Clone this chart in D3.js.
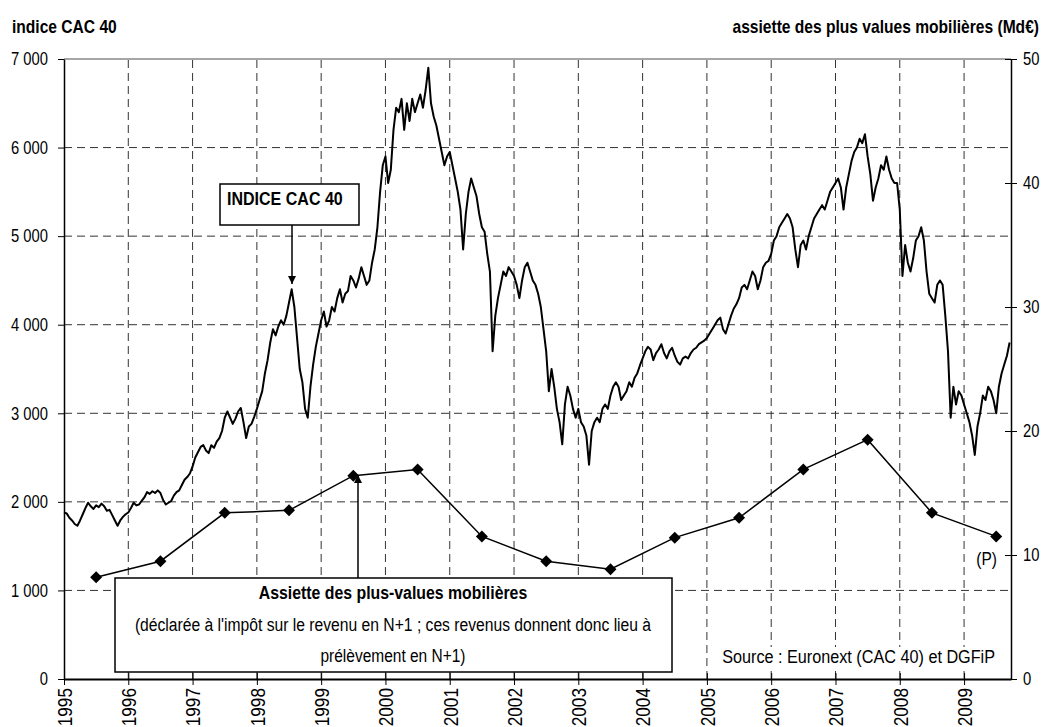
<!doctype html>
<html>
<head>
<meta charset="utf-8">
<script src="https://cdnjs.cloudflare.com/ajax/libs/d3/7.8.5/d3.min.js"></script>
<style>
    body{ margin:0; background-color:#fff; }
    svg text{ font-family:"Liberation Sans",Arial,sans-serif; fill:#000; }
</style>
</head>
<body>
<svg id="chart" width="1046" height="727"></svg>
<script>
// CAC 40, two readings per month (t = year + i/24)
var cac1995 = [1880,1870,1820,1790,1750,1730,1790,1860,1930,1990,1950,1920,1960,1940,1980,1950,1900,1910,1850,1790,1730,1790,1830,1860];
var cac1996 = [1880,1930,1990,1960,1970,2010,2050,2110,2090,2120,2100,2130,2100,2020,1970,1990,2010,2070,2110,2130,2190,2250,2280,2320];
var cac1997 = [2400,2500,2560,2620,2640,2580,2550,2640,2610,2680,2720,2800,2950,3020,2950,2880,2940,3020,3060,2900,2720,2850,2880,2960];
var cac1998 = [3050,3150,3250,3450,3600,3800,3950,3880,3980,4050,4000,4100,4250,4400,4200,3850,3500,3350,3050,2950,3300,3550,3750,3900];
var cac1999 = [4050,4150,3980,4050,4200,4150,4300,4400,4250,4350,4380,4550,4500,4420,4520,4650,4550,4450,4500,4700,4850,5100,5500,5800];
var cac2000 = [5900,5600,5750,6200,6450,6400,6550,6200,6500,6300,6550,6400,6500,6600,6450,6650,6900,6500,6350,6250,6100,5950,5800,5900];
var cac2001 = [5950,5800,5650,5500,5300,4850,5250,5500,5650,5550,5450,5250,5100,5050,4800,4600,3700,4100,4300,4450,4600,4550,4650,4600];
var cac2002 = [4550,4450,4300,4500,4650,4700,4600,4500,4450,4350,4200,3950,3700,3250,3500,3300,3050,2900,2650,3100,3300,3200,3050,2950];
var cac2003 = [3050,2900,2850,2750,2420,2800,2900,2950,2900,3050,3100,3050,3200,3300,3350,3300,3150,3200,3250,3350,3300,3400,3450,3540];
var cac2004 = [3620,3700,3750,3720,3600,3680,3720,3780,3680,3620,3700,3740,3650,3580,3550,3620,3640,3620,3680,3720,3740,3780,3800,3820];
var cac2005 = [3850,3900,3950,4000,4050,4080,3950,3900,4000,4100,4180,4230,4300,4420,4450,4400,4500,4600,4550,4400,4500,4650,4700,4720];
var cac2006 = [4800,4950,5000,5100,5150,5200,5250,5200,5100,4850,4650,4900,4950,4850,5000,5100,5200,5250,5300,5350,5300,5400,5500,5550];
var cac2007 = [5600,5650,5550,5300,5550,5700,5850,5950,6000,6100,6050,6150,5900,5700,5400,5550,5650,5800,5750,5900,5750,5650,5600,5600];
var cac2008 = [5300,4550,4900,4700,4600,4750,4950,5000,5100,4950,4600,4350,4300,4250,4450,4500,4450,4100,3700,2950,3300,3100,3250,3200];
var cac2009 = [3100,3000,2900,2750,2530,2850,3000,3200,3150,3300,3250,3150,3000,3300,3450,3550,3650,3800];

// assiette des plus-values mobilières (Md€), one value per year
var plusYears = [1995,1996,1997,1998,1999,2000,2001,2002,2003,2004,2005,2006,2007,2008,2009];
var plusValues = [8.2,9.5,13.4,13.6,16.4,16.9,11.5,9.5,8.85,11.4,13.0,16.9,19.3,13.4,11.5];

var yearTicks = [1995,1996,1997,1998,1999,2000,2001,2002,2003,2004,2005,2006,2007,2008,2009];
var leftTicks = [0,1000,2000,3000,4000,5000,6000,7000];
var rightTicks = [0,10,20,30,40,50];

var cacValues = [].concat(cac1995,cac1996,cac1997,cac1998,cac1999,cac2000,cac2001,
    cac2002,cac2003,cac2004,cac2005,cac2006,cac2007,cac2008,cac2009);
var cac = cacValues.map(function(v, i){ return {t: 1995 + i/24, v: v}; });

var svg = d3.select('#chart');

var x = d3.scaleLinear().domain([1995, 2009.73]).range([64, 1011]);
var y = d3.scaleLinear().domain([0, 7000]).range([679, 59]);
var y2 = d3.scaleLinear().domain([0, 50]).range([679, 59]);

var fmt = function(d){ return d3.format(',')(d).replace(/,/g, ' '); };

// squeeze Arial-metric text to Arial Narrow proportions
function narrow(sel, k){
    k = k || 0.82;
    sel.each(function(){
        var l = this.getComputedTextLength();
        d3.select(this).attr('textLength', l * k).attr('lengthAdjust', 'spacingAndGlyphs');
    });
}

// grid
var grid = svg.append('g').attr('class','grid')
    .attr('stroke','#333').attr('stroke-width',1).attr('stroke-dasharray','8,5');
grid.selectAll('line.h')
    .data(leftTicks.filter(function(d){ return d > 0 && d < 7000; }))
    .enter().append('line')
    .attr('x1', x(1995)).attr('x2', x.range()[1])
    .attr('y1', function(d){ return y(d); }).attr('y2', function(d){ return y(d); });
grid.selectAll('line.v')
    .data(yearTicks.filter(function(d){ return d > 1995; }))
    .enter().append('line')
    .attr('x1', function(d){ return x(d); }).attr('x2', function(d){ return x(d); })
    .attr('y1', y(0)).attr('y2', y(7000));

// top border
svg.append('line')
    .attr('x1', x.range()[0]).attr('x2', x.range()[1])
    .attr('y1', y(7000)).attr('y2', y(7000))
    .attr('stroke','#888').attr('stroke-width',1.5);

// left axis
var gLeft = svg.append('g')
    .attr('transform','translate(' + x.range()[0] + ',0)')
    .call(d3.axisLeft(y).tickValues(leftTicks).tickSize(6).tickSizeOuter(0).tickPadding(10).tickFormat(fmt));
gLeft.selectAll('text').style('font-size','18px').call(narrow);
gLeft.select('.domain').attr('stroke-width',1.5);

// right axis
var gRight = svg.append('g')
    .attr('transform','translate(' + x.range()[1] + ',0)')
    .call(d3.axisRight(y2).tickValues(rightTicks).tickSize(6).tickSizeOuter(0).tickPadding(6));
gRight.selectAll('.tick line').attr('x1', -6);
gRight.selectAll('text').style('font-size','18px').call(narrow);
gRight.select('.domain').attr('stroke-width',1.5);

// bottom axis
var gBottom = svg.append('g')
    .attr('transform','translate(0,' + y(0) + ')')
    .call(d3.axisBottom(x).tickValues(yearTicks).tickSize(6).tickSizeOuter(0).tickFormat(d3.format('d')));
gBottom.selectAll('.tick line').attr('y1', -6);
gBottom.select('.domain').attr('stroke-width',2);
gBottom.selectAll('text')
    .attr('transform','rotate(-90)')
    .attr('x', -9).attr('y', 0).attr('dy','0.35em')
    .style('text-anchor','end')
    .style('font-size','21px')
    .call(narrow);

// CAC 40 line
svg.append('path')
    .datum(cac)
    .attr('fill','none').attr('stroke','#000').attr('stroke-width',2)
    .attr('stroke-linejoin','round')
    .attr('d', d3.line().x(function(d){ return x(d.t); }).y(function(d){ return y(d.v); }));

// plus-values line + diamonds
var plus = plusYears.map(function(yr, i){ return {t: yr + 0.5, v: plusValues[i]}; });
svg.append('path')
    .datum(plus)
    .attr('fill','none').attr('stroke','#000').attr('stroke-width',1.5)
    .attr('d', d3.line().x(function(d){ return x(d.t); }).y(function(d){ return y2(d.v); }));
svg.append('g').selectAll('path')
    .data(plus).enter().append('path')
    .attr('d','M0,-6L6,0L0,6L-6,0Z')
    .attr('fill','#000')
    .attr('transform', function(d){ return 'translate(' + x(d.t) + ',' + y2(d.v) + ')'; });

// arrowheads
var defs = svg.append('defs');
defs.append('marker').attr('id','arrow')
    .attr('viewBox','0 0 10 10').attr('refX',10).attr('refY',5)
    .attr('markerWidth',8).attr('markerHeight',8).attr('markerUnits','userSpaceOnUse')
    .attr('orient','auto')
    .append('path').attr('d','M0,0L10,5L0,10Z').attr('fill','#000');

// callout: INDICE CAC 40
svg.append('rect').attr('x',220).attr('y',184).attr('width',139).attr('height',41)
    .attr('fill','#fff').attr('stroke','#000').attr('stroke-width',1.5);
svg.append('text').attr('x',227).attr('y',205)
    .style('font-size','18px').style('font-weight','bold').text('INDICE CAC 40').call(narrow, 0.89);
svg.append('line').attr('x1',292).attr('y1',225).attr('x2',292).attr('y2',284)
    .attr('stroke','#000').attr('stroke-width',1.5).attr('marker-end','url(#arrow)');

// callout: assiette
svg.append('line').attr('x1',358).attr('y1',578).attr('x2',358).attr('y2',475)
    .attr('stroke','#000').attr('stroke-width',1.5).attr('marker-end','url(#arrow)');
svg.append('rect').attr('x',115).attr('y',578).attr('width',557).attr('height',94)
    .attr('fill','#fff').attr('stroke','#000').attr('stroke-width',1.5);
var legendLines = [
    {text:'Assiette des plus-values mobilières', y:599, bold:true, k:0.88},
    {text:"(déclarée à l'impôt sur le revenu en N+1 ; ces revenus donnent donc lieu à", y:631, bold:false, k:0.87},
    {text:'prélèvement en N+1)', y:662, bold:false, k:0.86}
];
svg.append('g').selectAll('text')
    .data(legendLines).enter().append('text')
    .attr('x', 393).attr('y', function(d){ return d.y; })
    .style('text-anchor','middle').style('font-size','18px')
    .style('font-weight', function(d){ return d.bold ? 'bold' : 'normal'; })
    .text(function(d){ return d.text; })
    .each(function(d){ d3.select(this).call(narrow, d.k); });

// axis titles and notes
svg.append('text').attr('x',12).attr('y',33)
    .style('font-size','19px').style('font-weight','bold').text('indice CAC 40').call(narrow);
svg.append('text').attr('x',1039).attr('y',33).style('text-anchor','end')
    .style('font-size','19px').style('font-weight','bold').text('assiette des plus values mobilières (Md€)').call(narrow);

var source = svg.append('g');
var sourceText = source.append('text').attr('x',995).attr('y',663).style('text-anchor','end')
    .style('font-size','18px').text('Source : Euronext (CAC 40) et DGFiP').call(narrow, 0.9);
var sb = sourceText.node().getBBox();
source.insert('rect','text').attr('x', sb.x - 3).attr('y', sb.y).attr('width', sb.width + 6).attr('height', sb.height)
    .attr('fill','#fff');

svg.append('text').attr('x',997).attr('y',565).style('text-anchor','end')
    .style('font-size','18px').text('(P)').call(narrow, 0.86);
</script>
</body>
</html>
